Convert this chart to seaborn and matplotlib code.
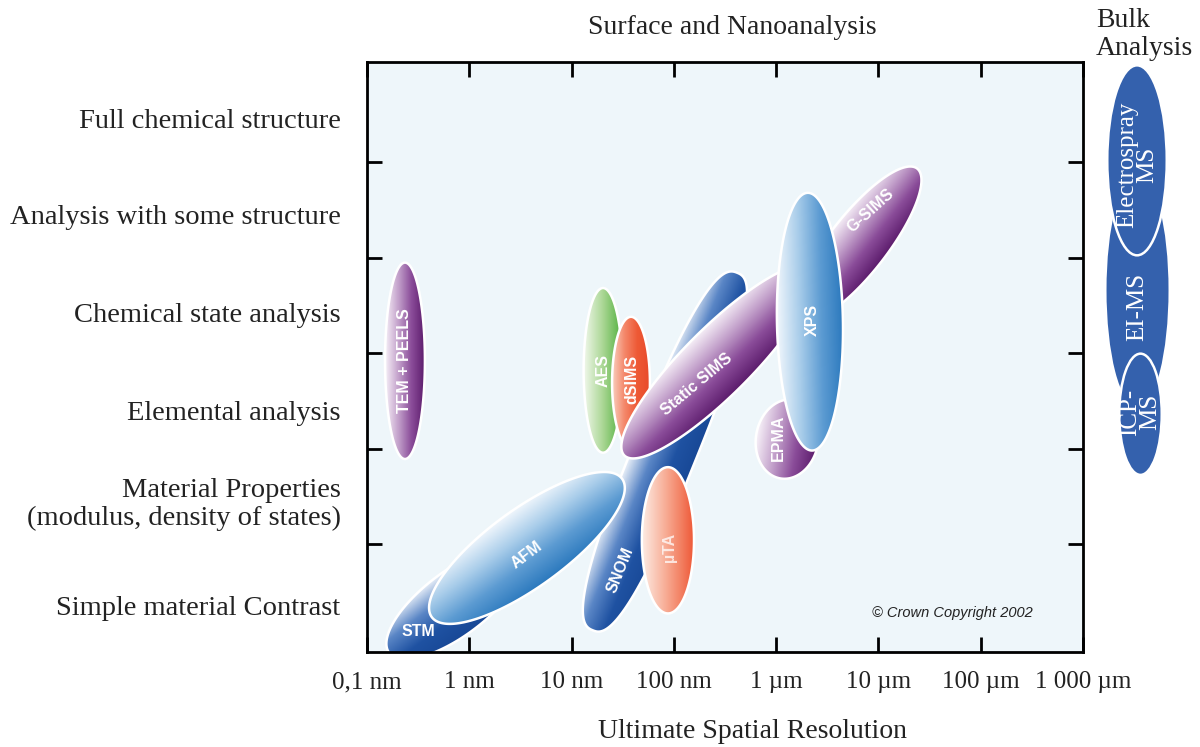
import numpy as np
import matplotlib
matplotlib.use("Agg")
import matplotlib.pyplot as plt
from matplotlib.patches import Polygon, Ellipse
from matplotlib.ticker import NullLocator
import seaborn as sns

# ---------------- data ----------------
level_labels = ["Simple material Contrast",
                "Material Properties\n(modulus, density of states)",
                "Elemental analysis",
                "Chemical state analysis",
                "Analysis with some structure",
                "Full chemical structure"]
level_label_pos = [0.36, 1.46, 2.40, 3.43, 4.45, 5.46]
level_ticks = [1, 2, 3, 4, 5]

res_tick_nm = [0.1, 1, 10, 100, 1e3, 1e4, 1e5, 1e6]
res_tick_labels = ["0,1 nm", "1 nm", "10 nm", "100 nm", "1 µm", "10 µm", "100 µm", "1 000 µm"]

# techniques, drawn back to front
techniques = ["STM", "SNOM", "AFM", "µTA", "TEM + PEELS", "AES", "dSIMS",
              "G-SIMS", "Static SIMS", "EPMA", "XPS"]
centre_nm = [0.724, 81.8, 3.66, 87.5, 0.235, 20.3, 38.1, 6310, 270, 1280, 2140]
centre_level = [0.38, 1.97, 0.96, 1.04, 2.92, 2.82, 2.69, 4.14, 2.91, 2.10, 3.33]
extent_decades = [1.61, 3.77, 2.30, 1.43, 1.92, 1.61, 1.29, 1.88, 2.59, 0.78, 2.52]
breadth_decades = [0.63, 0.62, 0.76, 0.51, 0.39, 0.38, 0.37, 0.57, 0.66, 0.61, 0.645]
tilt_deg = [37, 68, 36, 90, 90, 90, 90, 52, 45, 80, 91]

bulk_methods = ["EI-MS", "Electrospray\nMS", "ICP-\nMS"]
bulk_level_centre = [3.66, 5.02, 2.36]
bulk_level_span = [2.41, 1.99, 1.27]

# ---------------- styling / layout ----------------
sns.set_theme(style="white")
plt.rcParams["font.family"] = ["Liberation Serif", "DejaVu Serif"]

W_PX, H_PX, DPI = 1200, 747, 100
fig = plt.figure(figsize=(W_PX / DPI, H_PX / DPI), dpi=DPI)
fig.patch.set_facecolor("white")
ax_rect = [367 / W_PX, (H_PX - 652) / H_PX, (1083 - 367) / W_PX, (652 - 62) / H_PX]
ax = fig.add_axes(ax_rect)
ax.set_facecolor("#eef6fa")

XMIN, XMAX = np.log10(res_tick_nm[0]), np.log10(res_tick_nm[-1])
YMIN, YMAX = -0.13, 6.05
ax.set_xlim(XMIN, XMAX)
ax.set_ylim(YMIN, YMAX)

kx = ax_rect[2] * W_PX / (XMAX - XMIN)   # px per decade
ky = ax_rect[3] * H_PX / (YMAX - YMIN)   # px per level
ratio = kx / ky

palettes = {
    "purple": ["#f7f1f8", "#c3a1cb", "#8a4c99", "#5c1c6c"],
    "green": ["#f0f7ea", "#a8d692", "#4eaf3a"],
    "orange": ["#fdece4", "#f7a58c", "#ee5634"],
    "deep orange": ["#f9d0bf", "#f4876a", "#ee5a36", "#e84a2a"],
    "light blue": ["#f0f6fc", "#a9cdea", "#5c9bd2", "#2a78bd"],
    "dark blue": ["#e8eff8", "#5a86c6", "#1f52a2", "#184896"],
}
family_of = {"STM": "dark blue", "SNOM": "dark blue", "AFM": "light blue",
             "µTA": "orange", "TEM + PEELS": "purple", "AES": "green",
             "dSIMS": "deep orange", "G-SIMS": "purple", "Static SIMS": "purple",
             "EPMA": "purple", "XPS": "light blue"}
squareness = {"SNOM": 2.6}
cmaps = {k: sns.blend_palette(v, as_cmap=True) for k, v in palettes.items()}

# label anchor (nm, level) and rotation for each technique name
label_at = {"STM": (0.315, 0.08, 0), "SNOM": (29.7, 0.73, 68), "AFM": (3.66, 0.89, 37),
            "µTA": (91.6, 0.97, 90), "TEM + PEELS": (0.235, 2.92, 90),
            "AES": (20.3, 2.82, 90), "dSIMS": (38.9, 2.72, 90),
            "G-SIMS": (8450, 4.49, 42), "Static SIMS": (168, 2.67, 40),
            "EPMA": (1042, 2.11, 90), "XPS": (2240, 3.35, 90)}


def draw_blob(cx, cy, L, Wd, theta, cmap, z, n=2.0):
    t = np.linspace(0, 2 * np.pi, 360)
    th = np.deg2rad(theta)
    c, s_ = np.cos(t), np.sin(t)
    u = L / 2 * np.sign(c) * np.abs(c) ** (2 / n)
    v = Wd / 2 * np.sign(s_) * np.abs(s_) ** (2 / n)
    px = u * np.cos(th) - v * np.sin(th)
    py = u * np.sin(th) + v * np.cos(th)
    xs = cx + px
    ys = cy + py * ratio
    poly = Polygon(np.column_stack([xs, ys]), closed=True, facecolor="none",
                   edgecolor="white", lw=1.8, zorder=z + 0.5)
    ax.add_patch(poly)
    x0, x1, y0, y1 = xs.min(), xs.max(), ys.min(), ys.max()
    gx, gy = np.meshgrid(np.linspace(x0, x1, 260), np.linspace(y0, y1, 260))
    dx = gx - cx
    dy = (gy - cy) / ratio
    vv = -dx * np.sin(th) + dy * np.cos(th)
    s = np.clip(vv / (Wd / 2), -1, 1)
    val = (1 - s) / 2
    im = ax.imshow(val, cmap=cmap, vmin=0, vmax=1, extent=(x0, x1, y0, y1),
                   origin="lower", aspect="auto", interpolation="bilinear", zorder=z)
    im.set_clip_path(poly)


for i, name in enumerate(techniques):
    draw_blob(np.log10(centre_nm[i]), centre_level[i], extent_decades[i],
              breadth_decades[i], tilt_deg[i], cmaps[family_of[name]], z=2 + i,
              n=squareness.get(name, 2.0))

for i, name in enumerate(techniques):
    lx, ly, rot = label_at[name]
    ax.text(np.log10(lx), ly, name, rotation=rot, ha="center", va="center",
            rotation_mode="anchor", color="white", alpha=0.75 if name == "µTA" else 1,
            fontsize=11.5, fontweight="bold", family=["Liberation Sans", "DejaVu Sans"],
            zorder=40)

ax.text(0.817, 0.066, "© Crown Copyright 2002", transform=ax.transAxes,
        ha="center", va="center", fontsize=10.5, style="italic", color="#222222",
        family=["Liberation Sans", "DejaVu Sans"], zorder=40)

ax.set_xlim(XMIN, XMAX)
ax.set_ylim(YMIN, YMAX)

# ticks
ax.set_xticks(np.log10(res_tick_nm), res_tick_labels)
ax.xaxis.set_minor_locator(NullLocator())
ax.set_yticks(level_ticks)
ax.set_yticks(level_label_pos, labels=level_labels, minor=True)
ax.tick_params(which="major", direction="in", length=11, width=2, color="black",
               top=True, right=True, bottom=True, left=True)
ax.tick_params(axis="x", which="major", labelsize=18, pad=14, labelcolor="#222222")
ax.tick_params(axis="y", which="major", labelleft=False)
ax.tick_params(axis="y", which="minor", length=0, left=True, right=False,
               labelleft=True, labelsize=20.5, pad=19, labelcolor="#222222")
for lab in ax.get_yticklabels(minor=True):
    lab.set_linespacing(1.15)
for sp in ax.spines.values():
    sp.set_visible(True)
    sp.set_color("black")
    sp.set_linewidth(2)
    sp.set_zorder(50)

# titles
fig.text(732 / W_PX, 1 - 27 / H_PX, "Surface and Nanoanalysis", ha="center",
         va="center", fontsize=20, color="#222222")
fig.text(752 / W_PX, 1 - 732 / H_PX, "Ultimate Spatial Resolution", ha="center",
         va="center", fontsize=20, color="#222222")
fig.text(1096 / W_PX, 1 - 27 / H_PX, "Bulk", ha="left", va="baseline",
         fontsize=20, color="#222222")
fig.text(1096 / W_PX, 1 - 55 / H_PX, "Analysis", ha="left", va="baseline",
         fontsize=20, color="#222222")

# bulk analysis column
bx = fig.add_axes([1098 / W_PX, ax_rect[1], 85 / W_PX, ax_rect[3]])
bx.set_xlim(0, 1)
bx.set_ylim(YMIN, YMAX)
bx.axis("off")
bulk_x = {"EI-MS": (0.465, 0.70), "Electrospray\nMS": (0.459, 0.70), "ICP-\nMS": (0.50, 0.50)}
bulk_text_y = {"EI-MS": 3.48, "Electrospray\nMS": 4.97, "ICP-\nMS": 2.38}
for i, name in enumerate(bulk_methods):
    xc, wd = bulk_x[name]
    e = Ellipse((xc, bulk_level_centre[i]), wd, bulk_level_span[i], facecolor="#3461ad",
                edgecolor="white" if i > 0 else "#3461ad", lw=1.8, zorder=2 + i, clip_on=False)
    bx.add_patch(e)
    bx.text(xc, bulk_text_y[name], name, rotation=90, ha="center", va="center",
            color="white", fontsize=18, linespacing=0.9, zorder=10 + i)

fig.savefig("out.png", dpi=DPI)
